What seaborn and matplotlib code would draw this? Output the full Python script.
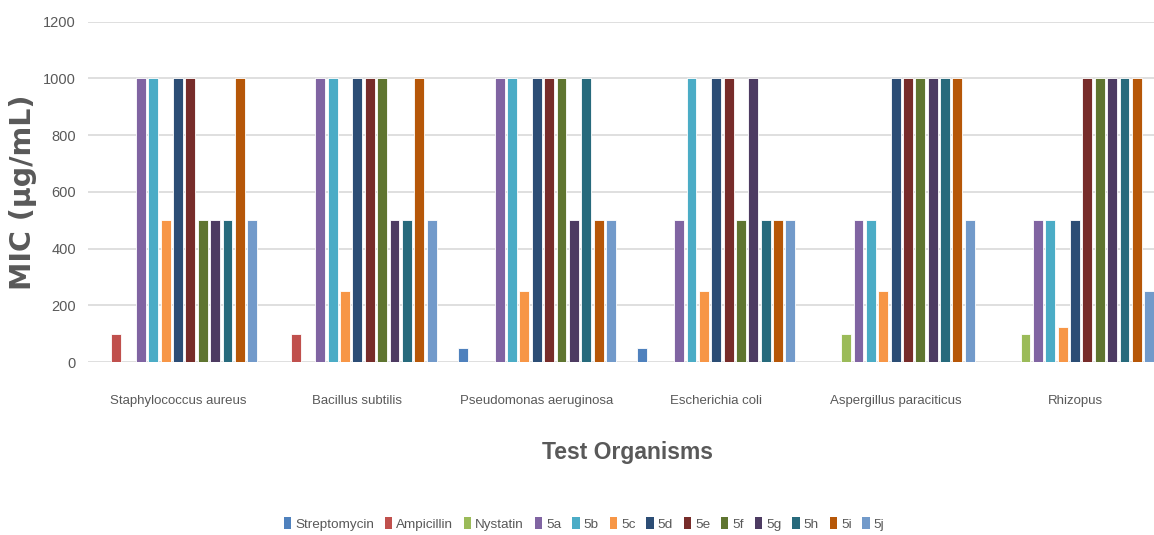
import matplotlib
matplotlib.use("Agg")
import matplotlib.pyplot as plt
import seaborn as sns
import pandas as pd
from matplotlib.patches import Patch

organisms = ["Staphylococcus aureus", "Bacillus subtilis", "Pseudomonas aeruginosa",
             "Escherichia coli", "Aspergillus paraciticus", "Rhizopus"]
series = ["Streptomycin", "Ampicillin", "Nystatin", "5a", "5b", "5c", "5d",
          "5e", "5f", "5g", "5h", "5i", "5j"]

streptomycin = [0, 0, 50, 50, 0, 0]
ampicillin = [100, 100, 0, 0, 0, 0]
nystatin = [0, 0, 0, 0, 100, 100]
v5a = [1000, 1000, 1000, 500, 500, 500]
v5b = [1000, 1000, 1000, 1000, 500, 500]
v5c = [500, 250, 250, 250, 250, 125]
v5d = [1000, 1000, 1000, 1000, 1000, 500]
v5e = [1000, 1000, 1000, 1000, 1000, 1000]
v5f = [500, 1000, 1000, 500, 1000, 1000]
v5g = [500, 500, 500, 1000, 1000, 1000]
v5h = [500, 500, 1000, 500, 1000, 1000]
v5i = [1000, 1000, 500, 500, 1000, 1000]
v5j = [500, 500, 500, 500, 500, 250]

values = [streptomycin, ampicillin, nystatin, v5a, v5b, v5c, v5d, v5e, v5f,
          v5g, v5h, v5i, v5j]
colors = ["#4F81BD", "#C0504D", "#9BBB59", "#8064A2", "#4BACC6", "#F79646",
          "#2C4D75", "#772C2A", "#5F7530", "#4D3B62", "#276A7C", "#B65708",
          "#729ACA"]

rows = []
for s, vals in zip(series, values):
    for o, v in zip(organisms, vals):
        rows.append({"Organism": o, "Series": s, "MIC": v})
df = pd.DataFrame(rows)

sns.set_theme(style="white")
plt.rcParams["font.family"] = ["Liberation Sans", "DejaVu Sans"]

fig = plt.figure(figsize=(11.54, 5.35), dpi=100)
ax = fig.add_axes([88.3 / 1154, 173 / 535, 1076.4 / 1154, 340.3 / 535])

sns.barplot(data=df, x="Organism", y="MIC", hue="Series", order=organisms,
            hue_order=series, palette=colors, width=0.896, gap=0.2,
            ax=ax, legend=False, saturation=1, edgecolor="white", linewidth=0.6)

ax.set_ylim(0, 1200)
ax.set_yticks(range(0, 1201, 200))
ax.set_xlim(-0.5, 5.5)
ax.yaxis.grid(True, color="#D9D9D9", linewidth=1.2)
ax.set_axisbelow(True)
for sp in ax.spines.values():
    sp.set_visible(False)
ax.tick_params(axis="both", length=0, colors="#595959")
for lab in ax.get_yticklabels():
    lab.set_fontsize(10.5)
for lab in ax.get_xticklabels():
    lab.set_fontsize(9.5)
ax.tick_params(axis="x", pad=24)
ax.tick_params(axis="y", pad=9)

ax.set_xlabel("")
ax.set_ylabel("")
fig.text(23 / 1154, 1 - 192 / 535, "MIC (µg/mL)", rotation=90, ha="center",
         va="center", fontsize=20.5, fontweight="bold", color="#595959",
         family="DejaVu Sans")
fig.text(627 / 1154, 1 - 453 / 535, "Test Organisms", ha="center", va="center",
         fontsize=16.5, fontweight="bold", color="#595959")

handles = [Patch(facecolor=c, edgecolor="none") for c in colors]
fig.legend(handles, series, loc="center", bbox_to_anchor=(584 / 1154, 1 - 524 / 535),
           ncol=13, frameon=False, fontsize=9.7, handlelength=0.55,
           handleheight=1.0, handletextpad=0.3, columnspacing=0.8,
           labelcolor="#595959")

fig.savefig("out.png", dpi=100)
